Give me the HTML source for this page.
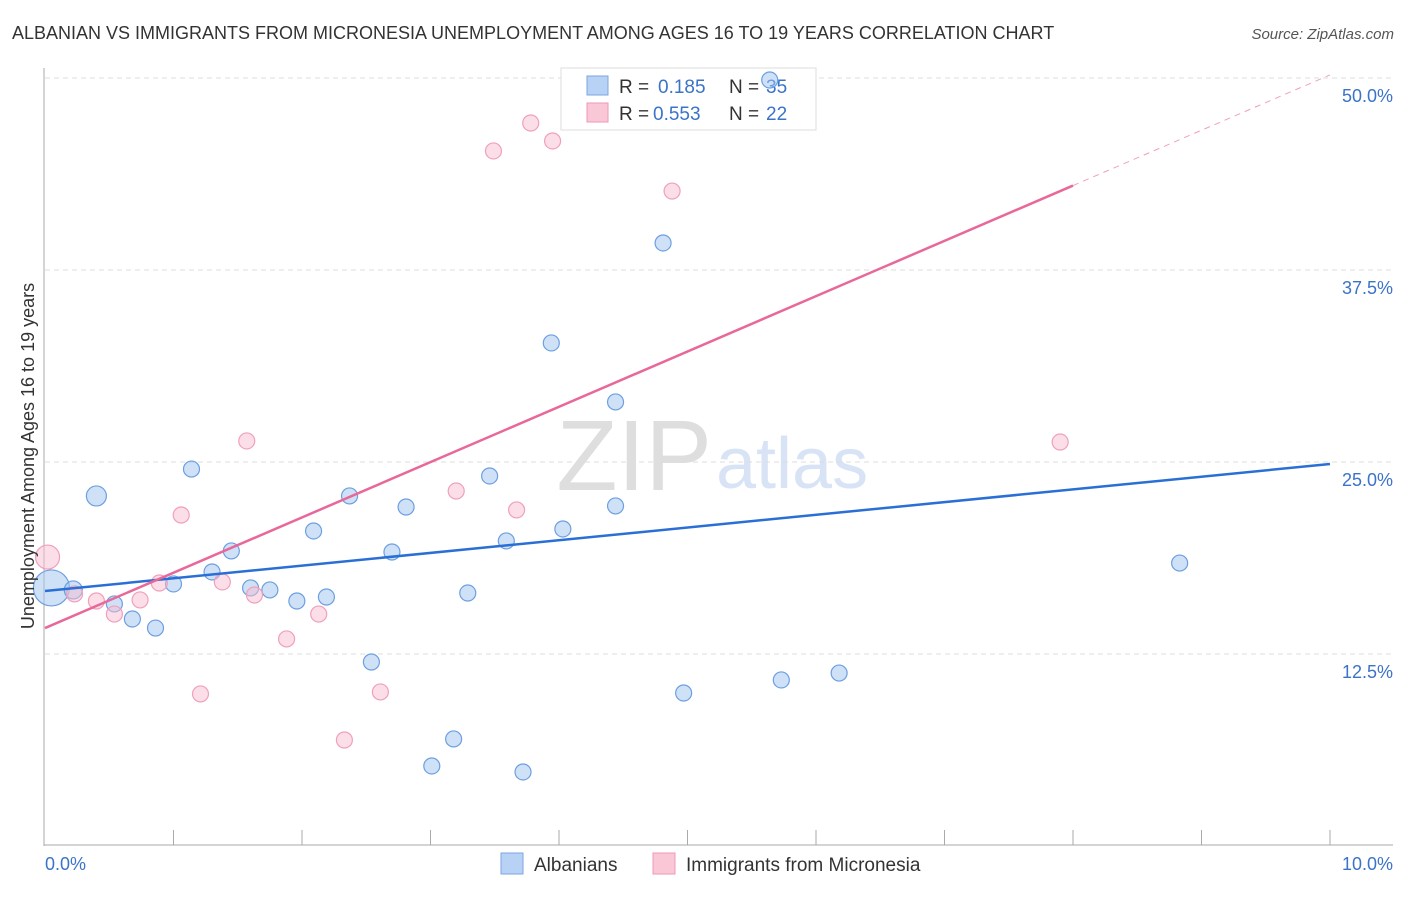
<!DOCTYPE html>
<html><head><meta charset="utf-8"><style>
body{margin:0;background:#fff;font-family:"Liberation Sans",sans-serif}
svg text{font-family:"Liberation Sans",sans-serif}
</style></head><body>
<svg id="chart" width="1406" height="892">
<text x="12" y="39" font-size="18" fill="#333">ALBANIAN VS IMMIGRANTS FROM MICRONESIA UNEMPLOYMENT AMONG AGES 16 TO 19 YEARS CORRELATION CHART</text>
<text x="1394" y="39" font-size="15" fill="#555" text-anchor="end" font-style="italic">Source: ZipAtlas.com</text>
<text x="712" y="490" font-size="100" fill="#dedede" text-anchor="end" font-family="Liberation Serif">ZIP</text>
<text x="716" y="488" font-size="72" fill="#d8e4f5">atlas</text>
<g id="grid"></g>
<g id="axes"></g>
<g>
<rect x="561" y="68" width="255" height="62" fill="#fff" stroke="#ddd"/>
<rect x="587" y="76" width="21" height="19" fill="#b8d2f5" stroke="#7aa6e0"/>
<rect x="587" y="103" width="21" height="19" fill="#f9c7d6" stroke="#ee9ab5"/>
<text x="619" y="93" font-size="19" fill="#333">R = </text><text x="658" y="93" font-size="19" fill="#3b73c8">0.185</text>
<text x="729" y="93" font-size="19" fill="#333">N = </text><text x="766" y="93" font-size="19" fill="#3b73c8">35</text>
<text x="619" y="120" font-size="19" fill="#333">R = </text><text x="653" y="120" font-size="19" fill="#3b73c8">0.553</text>
<text x="729" y="120" font-size="19" fill="#333">N = </text><text x="766" y="120" font-size="19" fill="#3b73c8">22</text>
</g>
<g id="points"></g>
<g id="lines"></g>
<text transform="translate(34,456) rotate(-90)" font-size="18" fill="#333" text-anchor="middle">Unemployment Among Ages 16 to 19 years</text>
<text x="45" y="870" font-size="18" fill="#3b73c8">0.0%</text>
<text x="1393" y="870" font-size="18" fill="#3b73c8" text-anchor="end">10.0%</text>
<g>
<rect x="501" y="853" width="22" height="21" fill="#b8d2f5" stroke="#7aa6e0"/>
<text x="534" y="871" font-size="19" fill="#333">Albanians</text>
<rect x="653" y="853" width="22" height="21" fill="#f9c7d6" stroke="#ee9ab5"/>
<text x="686" y="871" font-size="19" fill="#333">Immigrants from Micronesia</text>
</g>
</svg>
<script>
const blueX=[0.05,0.22,0.40,0.54,0.68,0.86,1.00,1.14,1.30,1.45,1.60,1.75,1.96,2.09,2.19,2.37,2.54,2.70,2.81,3.01,3.18,3.29,3.46,3.59,3.72,3.94,4.03,4.44,4.44,4.81,4.97,5.64,5.73,6.18,8.83];
const blueY=[16.80,16.67,22.79,15.76,14.78,14.19,17.06,24.54,17.84,19.21,16.80,16.67,15.95,20.51,16.21,22.79,11.98,19.14,22.07,5.21,6.97,16.47,24.09,19.86,4.82,32.75,20.64,28.91,22.14,39.26,9.96,49.87,10.81,11.26,18.42];
const blueR=[18,9,10,8,8,8,8,8,8,8,8,8,8,8,8,8,8,8,8,8,8,8,8,8,8,8,8,8,8,8,8,8,8,8,8];
const pinkX=[0.02,0.23,0.40,0.54,0.74,0.89,1.06,1.21,1.38,1.57,1.63,1.88,2.13,2.33,2.61,3.20,3.49,3.67,3.78,3.95,4.88,7.90];
const pinkY=[18.81,16.41,15.95,15.10,16.02,17.12,21.55,9.90,17.19,26.37,16.34,13.48,15.10,6.90,10.03,23.11,45.25,21.88,47.07,45.90,42.64,26.30];
const pinkR=[12,8,8,8,8,8,8,8,8,8,8,8,8,8,8,8,8,8,8,8,8,8];
const yTicks=[12.5,25.0,37.5,50.0];
const blueTrend=[16.60,24.87];
const pinkTrend=[14.19,50.2];
const pinkSolidEnd=8.0;
const NS="http://www.w3.org/2000/svg";
const xs=v=>45+v*128.5, ys=v=>846-v*15.36;
function mk(tag,attrs,parent){const e=document.createElementNS(NS,tag);for(const k in attrs)e.setAttribute(k,attrs[k]);parent.appendChild(e);return e;}
const grid=document.getElementById('grid'),axes=document.getElementById('axes'),pts=document.getElementById('points'),lines=document.getElementById('lines');
yTicks.forEach(t=>{
 const l=mk('line',{x1:45,x2:1393,y1:ys(t),y2:ys(t),stroke:'#ddd','stroke-dasharray':'5,4'},grid);
 
 
 const tx=mk('text',{x:1393,y:ys(t)+24,'font-size':18,fill:'#3b73c8','text-anchor':'end'},grid);
 tx.textContent=t.toFixed(1)+'%';
 
 
});
const ax=mk('line',{x1:44,x2:44,y1:68,y2:846,stroke:'#aaa'},axes);


const bx=mk('line',{x1:44,x2:1393,y1:845,y2:845,stroke:'#aaa'},axes);


for(let i=1;i<=10;i++){
 const t=mk('line',{x1:xs(i),x2:xs(i),y1:830,y2:845,stroke:'#aaa'},axes);
 
 
}
blueX.forEach((x,i)=>{
 const c=mk('circle',{cx:xs(x),cy:ys(blueY[i]),r:blueR[i],fill:'rgba(160,196,240,0.5)',stroke:'#6c9fe0','stroke-width':1.2},pts);
 
 
});
pinkX.forEach((x,i)=>{
 const c=mk('circle',{cx:xs(x),cy:ys(pinkY[i]),r:pinkR[i],fill:'rgba(248,190,208,0.5)',stroke:'#f0a0bb','stroke-width':1.2},pts);
 
 
});
const bl=mk('line',{x1:xs(0),y1:ys(blueTrend[0]),x2:xs(10),y2:ys(blueTrend[1]),stroke:'#2a6fd6','stroke-width':2.5},lines);


const pm=pinkTrend[0]+(pinkTrend[1]-pinkTrend[0])*pinkSolidEnd/10;
const pl=mk('line',{x1:xs(0),y1:ys(pinkTrend[0]),x2:xs(pinkSolidEnd),y2:ys(pm),stroke:'#e8689a','stroke-width':2.5},lines);


const pd=mk('line',{x1:xs(pinkSolidEnd),y1:ys(pm),x2:xs(10),y2:ys(pinkTrend[1]),stroke:'#f0a0bb','stroke-width':1,'stroke-dasharray':'6,5'},lines);


</script>
</body></html>
